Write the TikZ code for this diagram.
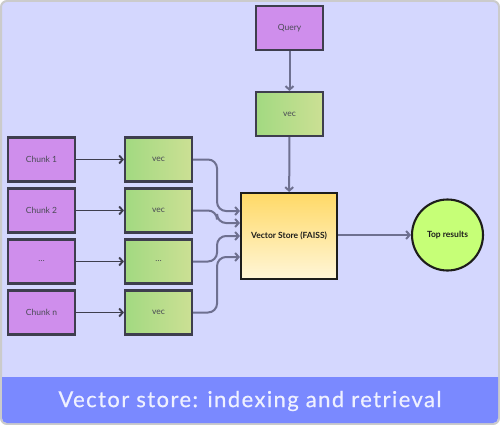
\documentclass[tikz,border=0pt]{standalone}
\usepackage{fontspec}
\setmainfont{Lato}
\usetikzlibrary{arrows.meta,positioning,calc}
\definecolor{ink}{HTML}{1D1D1B}
\definecolor{ink2}{HTML}{4A4A55}
\definecolor{edge}{HTML}{3E3E4E}
\definecolor{wire}{HTML}{6E7090}
\definecolor{frame}{HTML}{CBCBCB}
\definecolor{canvas}{HTML}{D4D7FE}
\definecolor{banner}{HTML}{7A89FF}
\definecolor{bannertext}{HTML}{EEF0FF}
\definecolor{chunkfill}{HTML}{CF8EEC}
\definecolor{vecleft}{HTML}{A2D981}
\definecolor{vecright}{HTML}{CCE094}
\definecolor{storetop}{HTML}{FFD966}
\definecolor{storebot}{HTML}{FFF6D8}
\definecolor{hitfill}{HTML}{C6FF77}
\tikzset{
  base/.style={rectangle, minimum width=67pt, minimum height=44pt, inner sep=2pt, align=center, font=\fontsize{8.5}{10}\selectfont, text=ink2, line width=2.1pt, draw=edge},
  chunk/.style={base, fill=chunkfill},
  vecbox/.style={base, left color=vecleft, right color=vecright},
  store/.style={base, minimum width=96pt, minimum height=86pt, draw=ink, text=ink, font=\fontsize{8.5}{10}\selectfont\bfseries, top color=storetop, bottom color=storebot},
  hit/.style={circle, minimum size=71pt, draw=ink, line width=2.1pt, fill=hitfill, text=ink, font=\fontsize{8.5}{10}\selectfont\bfseries},
  feed/.style={-{Straight Barb[length=3.5pt,width=8pt]}, line width=1.9pt, draw=edge},
  link/.style={-{Straight Barb[length=3.5pt,width=8pt]}, line width=2pt, draw=wire, rounded corners=9pt},
}
\begin{document}
\begin{tikzpicture}[x=1pt, y=-1pt]
  \useasboundingbox (0,0) rectangle (500,425);
  % frame and caption bar
  \draw[frame, line width=2pt, fill=canvas, rounded corners=6pt] (1,1) rectangle (499,424);
  \fill[banner] (2,377) -- (498,377) [rounded corners=5pt] -- (498,423) -- (2,423) [sharp corners] -- cycle;
  \node[text=bannertext, font=\fontsize{22}{26}\selectfont\addfontfeatures{LetterSpace=6.5,FakeBold=0.6}] (title) at (250,401) {Vector store: indexing and retrieval};

  % query side
  \node[chunk] (q) at (289.5,28) {Query};
  \node[vecbox] (qv) at (289.5,114) {vec};
  \node[store] (store) at (289,236) {Vector Store (FAISS)};
  \node[hit] (top) at (447.5,235) {Top results};
  \draw[link] (q) -- (qv);
  \draw[link] (qv) -- (store);
  \draw[link] (store.east |- top) -- (top);

  % chunks to store
  \foreach \y/\name/\vname/\dy [count=\i] in {
      159.5/Chunk 1/vec/25,
      210.5/Chunk 2/vec/13,
      261.5/{\ldots}/{\ldots}/0,
      312.5/Chunk n/vec/-21} {
    \node[chunk] (c\i) at (41.5,\y) {\name};
    \node[vecbox] (v\i) at (158.5,\y) {\vname};
    \draw[feed] (c\i) -- (v\i);
    \draw[link] (v\i.east) -- ++(24,0) |- ([yshift=\dy pt]store.west);
  }
\end{tikzpicture}
\end{document}
